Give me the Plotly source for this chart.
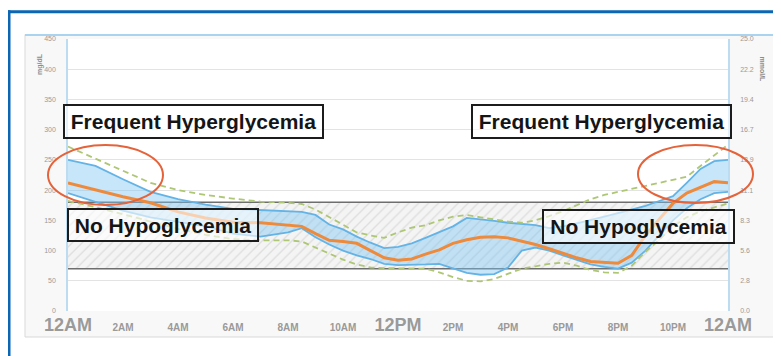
import plotly.graph_objects as go

# ---------------- data ----------------
hours = [0, 1, 2, 3, 4, 5, 6, 7, 8, 8.5, 9, 9.5, 10, 10.5, 11, 11.5, 12, 12.5, 13, 13.5,
         14, 14.5, 15, 15.5, 16, 16.5, 17, 17.5, 18, 18.5, 19, 19.5, 20, 20.5, 21, 21.5,
         22, 22.5, 23, 23.5, 24]

median = [212, 200, 189, 179, 164, 154, 147, 146, 142, 140, 128, 117, 115, 112, 100, 88,
          84, 86, 94, 101, 112, 118, 122, 123, 121, 116, 110, 103, 95, 88, 82, 80, 79, 92,
          125, 152, 178, 195, 205, 214, 212]

p75 = [250, 240, 218, 197, 185, 176, 169, 167, 166, 164, 159, 143, 135, 123, 113, 104,
       106, 112, 121, 130, 140, 154, 152, 149, 146, 144, 142, 137, 140, 145, 150, 156, 162,
       168, 174, 182, 190, 212, 235, 248, 250]

p25 = [195, 180, 166, 155, 148, 140, 128, 123, 130, 137, 122, 110, 100, 92, 86, 78,
       76, 76, 77, 78, 70, 63, 60, 61, 72, 100, 105, 100, 92, 84, 77, 73, 70, 80,
       100, 125, 150, 170, 185, 195, 197]

p90 = [272, 252, 232, 212, 200, 192, 186, 181, 179, 177, 168, 155, 142, 130, 125, 121,
       130, 138, 142, 150, 156, 159, 155, 151, 148, 146, 150, 157, 165, 175, 185, 192, 197,
       202, 208, 213, 217, 222, 240, 258, 275]

p10 = [182, 172, 160, 148, 136, 126, 119, 117, 117, 115, 105, 95, 85, 77, 72, 71,
       71, 70, 70, 64, 56, 50, 49, 53, 62, 70, 74, 78, 80, 75, 68, 64, 63, 75,
       98, 118, 140, 155, 165, 172, 178]

target_low = 70
target_high = 180

x_tickvals = [0, 2, 4, 6, 8, 10, 12, 14, 16, 18, 20, 22, 24]
x_ticklabels = ["12AM", "2AM", "4AM", "6AM", "8AM", "10AM", "12PM", "2PM", "4PM",
                "6PM", "8PM", "10PM", "12AM"]
major_labels = {"12AM", "12PM"}

mgdl_ticks = [0, 50, 100, 150, 200, 250, 300, 350, 400, 450]
mmol_labels = ["0.0", "2.8", "5.6", "8.3", "11.1", "13.9", "16.7", "19.4", "22.2", "25.0"]

# ---------------- geometry (page pixels; the page body adds an 8px offset) ----------------
OFF = 8
W, H = 781, 356
PLOT_L, PLOT_R, PLOT_T, PLOT_B = 68, 728, 39, 311     # plot area in page pixels
L = PLOT_L - OFF
T = PLOT_T - OFF
R = W - (PLOT_R - OFF)
B = H - (PLOT_B - OFF)
PW, PH = PLOT_R - PLOT_L, PLOT_B - PLOT_T


def px(xp):
    return (xp - PLOT_L) / PW


def py(yp):
    return (PLOT_B - yp) / PH


fig = go.Figure()

# target range (hatched)
fig.add_trace(go.Scatter(
    x=[hours[0], hours[-1], hours[-1], hours[0], hours[0]],
    y=[target_low, target_low, target_high, target_high, target_low],
    mode="lines", line=dict(width=0), fill="toself",
    fillcolor="#f3f3f3",
    fillpattern=dict(shape="/", fgcolor="#c8c8c8", bgcolor="#f4f4f4", size=7, solidity=0.2),
    hoverinfo="skip", showlegend=False))

for lim in (target_low, target_high):
    fig.add_trace(go.Scatter(x=[hours[0], hours[-1]], y=[lim, lim], mode="lines",
                             line=dict(color="#6e6e6e", width=1.6),
                             hoverinfo="skip", showlegend=False))

# interquartile band
fig.add_trace(go.Scatter(x=hours, y=p25, mode="lines",
                         line=dict(color="#63b3e6", width=1.8), showlegend=False))
fig.add_trace(go.Scatter(x=hours, y=p75, mode="lines", fill="tonexty",
                         fillcolor="rgba(125,196,240,0.42)",
                         line=dict(color="#63b3e6", width=1.8), showlegend=False))

# 10/90 percentiles
for s in (p10, p90):
    fig.add_trace(go.Scatter(x=hours, y=s, mode="lines",
                             line=dict(color="#aec774", width=1.8, dash="6px,4px"),
                             showlegend=False))

# median
fig.add_trace(go.Scatter(x=hours, y=median, mode="lines",
                         line=dict(color="#ee8a3b", width=3), showlegend=False))

# secondary axis anchor trace
fig.add_trace(go.Scatter(x=[None], y=[None], yaxis="y2", showlegend=False, hoverinfo="skip"))

ticktext = [
    f'<span style="font-size:18px">{t}</span>' if t in major_labels else t
    for t in x_ticklabels
]

shapes = [
    # panel
    dict(type="rect", xref="paper", yref="paper", x0=px(25), x1=px(775), y0=py(337), y1=py(34.5),
         fillcolor="#f8f8f8", line=dict(color="#d9d9d9", width=1), layer="below"),
    dict(type="rect", xref="paper", yref="paper", x0=0, x1=1, y0=0, y1=1,
         fillcolor="#ffffff", line=dict(width=0), layer="below"),
    dict(type="line", xref="paper", yref="paper", x0=px(25), x1=px(775), y0=py(35), y1=py(35),
         line=dict(color="#a9d3ef", width=2), layer="below"),
    # outer blue frame
    dict(type="line", xref="paper", yref="paper", x0=px(7.5), x1=px(800), y0=py(11.7), y1=py(11.7),
         line=dict(color="#0b66b3", width=3)),
    dict(type="line", xref="paper", yref="paper", x0=px(9), x1=px(9), y0=py(10.2), y1=py(380),
         line=dict(color="#0b66b3", width=3)),
    # ellipses
    dict(type="circle", xref="paper", yref="paper", x0=px(48), x1=px(163), y0=py(205), y1=py(145),
         line=dict(color="#e5633b", width=2), layer="above"),
    dict(type="circle", xref="paper", yref="paper", x0=px(638), x1=px(753), y0=py(203), y1=py(145),
         line=dict(color="#e5633b", width=2), layer="above"),
]

box_font = dict(family="Liberation Sans, Arial, sans-serif", size=21, color="#151515", weight="bold")


def box(text, x0, x1, y0, y1):
    return dict(text=text, xref="paper", yref="paper",
                x=px((x0 + x1) / 2), y=py((y0 + y1) / 2), xanchor="center", yanchor="middle",
                showarrow=False, font=box_font, width=x1 - x0 - 6, height=y1 - y0 - 6,
                bgcolor="rgba(255,255,255,0.6)", bordercolor="#1c1c1c", borderwidth=2,
                borderpad=1, align="center", valign="middle")


annotations = [
    box("Frequent Hyperglycemia", 63, 324, 104, 139),
    box("Frequent Hyperglycemia", 471, 732, 104, 139),
    box("No Hypoglycemia", 67, 259, 208, 242),
    box("No Hypoglycemia", 542, 735, 209, 244),
    dict(text="mg/dL", xref="paper", yref="paper", x=px(34), y=py(51), showarrow=False,
         textangle=-90, font=dict(size=7, color="#8c8c8c", weight="bold")),
    dict(text="mmol/L", xref="paper", yref="paper", x=px(768), y=py(54), showarrow=False,
         textangle=90, font=dict(size=7, color="#8c8c8c", weight="bold")),
]

fig.update_layout(
    width=W, height=H, autosize=False,
    margin=dict(l=L, r=R, t=T, b=B, pad=0),
    paper_bgcolor="#ffffff", plot_bgcolor="rgba(0,0,0,0)",
    font=dict(family="Liberation Sans, Arial, sans-serif"),
    showlegend=False,
    xaxis=dict(range=[hours[0], hours[-1]], tickvals=x_tickvals, ticktext=ticktext,
               showgrid=False, zeroline=False, showline=False, ticks="",
               tickfont=dict(size=10, color="#9a9a9a", weight="bold"), ticklabelstandoff=9),
    yaxis=dict(range=[0, 450], tickvals=mgdl_ticks, showgrid=True, gridcolor="#e3e3e3",
               gridwidth=1, zeroline=False, showline=True, linecolor="#bcdcf2", linewidth=1.5,
               ticks="", tickfont=dict(size=7, color="#9a9a9a"), ticklabelstandoff=9),
    yaxis2=dict(range=[0, 450], tickvals=mgdl_ticks, ticktext=mmol_labels, overlaying="y",
                side="right", showgrid=False, zeroline=False, showline=True,
                linecolor="#bcdcf2", linewidth=1.5, ticks="",
                tickfont=dict(size=7, color="#9a9a9a"), ticklabelstandoff=9),
    shapes=shapes,
    annotations=annotations,
)

fig.write_html("out.html")
